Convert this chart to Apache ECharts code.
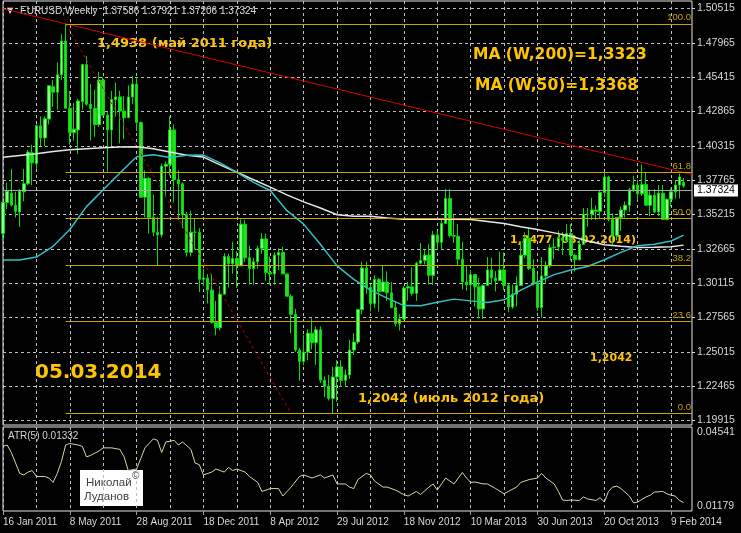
<!DOCTYPE html>
<html><head><meta charset="utf-8">
<script src="https://cdn.jsdelivr.net/npm/echarts@6/dist/echarts.min.js"></script>
<style>html,body{margin:0;padding:0;background:#000;}#c{width:741px;height:533px;}</style>
</head><body><div id="c"></div>
<script>
// ---- weekly bars EURUSD, week of 16 Jan 2011 (index 0) .. week of 2 Mar 2014 (index 163)
const openP = [1.3380,1.3610,1.3680,1.3590,1.3540,1.3690,1.3750,1.3980,1.3900,1.4180,
1.4090,1.4230,1.4470,1.4430,1.4560,1.4810,1.4310,1.4130,1.4150,1.4360,
1.4635,1.4340,1.4310,1.4190,1.4520,1.4260,1.4150,1.4375,1.4395,1.4290,
1.4240,1.4395,1.4490,1.4205,1.3650,1.3790,1.3500,1.3390,1.3370,1.3880,
1.3895,1.4150,1.3780,1.3750,1.3520,1.3240,1.3390,1.3390,1.3040,1.3050,
1.2960,1.2720,1.2680,1.2930,1.3210,1.3155,1.3195,1.3140,1.3450,1.3200,
1.3120,1.3170,1.3270,1.3340,1.3090,1.3080,1.3220,1.3240,1.3080,1.2915,
1.2780,1.2515,1.2430,1.2500,1.2640,1.2570,1.2665,1.2290,1.2245,1.2155,
1.2315,1.2390,1.2290,1.2330,1.2515,1.2575,1.2815,1.3125,1.2980,1.2860,
1.3040,1.2950,1.3020,1.2940,1.2830,1.2710,1.2745,1.2975,1.2985,1.2935,
1.3160,1.3180,1.3220,1.3070,1.3370,1.3315,1.3455,1.3640,1.3365,1.3360,
1.3190,1.3020,1.3000,1.3075,1.2985,1.2820,1.2995,1.3110,1.3050,1.3030,
1.3110,1.2995,1.2835,1.2930,1.2995,1.3220,1.3345,1.3120,1.3010,1.2830,
1.3065,1.3140,1.3275,1.3280,1.3345,1.3330,1.3380,1.3220,1.3185,1.3300,
1.3525,1.3525,1.3555,1.3545,1.3685,1.3800,1.3485,1.3365,1.3500,1.3555,
1.3590,1.3705,1.3740,1.3675,1.3745,1.3590,1.3665,1.3540,1.3680,1.3485,
1.3635,1.3690,1.3740,1.37586];
const highP = [1.3620,1.3760,1.3860,1.3690,1.3710,1.3860,1.4000,1.4040,1.4190,1.4250,
1.4250,1.4480,1.4520,1.4650,1.4860,1.4938,1.4440,1.4350,1.4380,1.4640,
1.4700,1.4490,1.4450,1.4580,1.4540,1.4280,1.4440,1.4500,1.4440,1.4400,
1.4480,1.4550,1.4540,1.4210,1.3850,1.3800,1.3670,1.3500,1.3900,1.3915,
1.4250,1.4190,1.3850,1.3760,1.3540,1.3550,1.3490,1.3420,1.3120,1.3080,
1.3080,1.2880,1.2990,1.3235,1.3230,1.3320,1.3250,1.3486,1.3480,1.3290,
1.3200,1.3290,1.3385,1.3380,1.3210,1.3240,1.3270,1.3280,1.3080,1.2930,
1.2820,1.2530,1.2625,1.2670,1.2750,1.2690,1.2690,1.2320,1.2330,1.2390,
1.2440,1.2440,1.2370,1.2590,1.2640,1.2820,1.3170,1.3170,1.3000,1.3070,
1.3050,1.3140,1.3100,1.3020,1.2880,1.2780,1.2990,1.3020,1.3130,1.3170,
1.3310,1.3260,1.3300,1.3400,1.3400,1.3480,1.3711,1.3710,1.3520,1.3450,
1.3320,1.3140,1.3110,1.3080,1.3050,1.3000,1.3205,1.3200,1.3100,1.3245,
1.3240,1.3010,1.3000,1.3060,1.3310,1.3390,1.3420,1.3190,1.3080,1.3205,
1.3175,1.3300,1.3345,1.3400,1.3390,1.3450,1.3450,1.3230,1.3330,1.3570,
1.3570,1.3645,1.3590,1.3705,1.3832,1.3810,1.3530,1.3500,1.3580,1.3620,
1.3720,1.3810,1.3780,1.3893,1.3835,1.3700,1.3710,1.3740,1.3740,1.3640,
1.3715,1.3775,1.3825,1.37921];
const lowP = [1.3330,1.3560,1.3580,1.3500,1.3430,1.3620,1.3740,1.3740,1.3860,1.4030,
1.4030,1.4190,1.4320,1.4300,1.4520,1.4310,1.4040,1.4070,1.3970,1.4300,
1.4330,1.4070,1.4100,1.4170,1.4250,1.3840,1.4030,1.4250,1.4050,1.4080,
1.4240,1.4340,1.4140,1.3650,1.3500,1.3380,1.3360,1.3146,1.3350,1.3650,
1.3810,1.3610,1.3480,1.3420,1.3210,1.3210,1.3260,1.2945,1.2990,1.2860,
1.2710,1.2624,1.2660,1.2930,1.2980,1.3080,1.2975,1.3140,1.3170,1.3000,
1.3000,1.3120,1.3230,1.3030,1.3000,1.3000,1.3110,1.3080,1.2910,1.2640,
1.2500,1.2288,1.2400,1.2440,1.2520,1.2405,1.2270,1.2165,1.2140,1.2042,
1.2130,1.2240,1.2240,1.2300,1.2480,1.2560,1.2780,1.2930,1.2800,1.2830,
1.2800,1.2950,1.2880,1.2825,1.2690,1.2660,1.2740,1.2880,1.2920,1.2880,
1.3150,1.3150,1.3000,1.2998,1.3260,1.3260,1.3450,1.3350,1.3310,1.3140,
1.2965,1.2955,1.2880,1.2840,1.2750,1.2745,1.2995,1.3000,1.2950,1.3030,
1.2960,1.2795,1.2820,1.2840,1.2995,1.3200,1.3110,1.2995,1.2805,1.2755,
1.3010,1.3125,1.3190,1.3250,1.3220,1.3310,1.3180,1.3100,1.3180,1.3300,
1.3430,1.3480,1.3480,1.3490,1.3650,1.3470,1.3295,1.3330,1.3400,1.3500,
1.3540,1.3690,1.3630,1.3660,1.3590,1.3510,1.3530,1.3510,1.3480,1.3477,
1.3580,1.3640,1.3640,1.37206];
const closeP = [1.3612,1.3694,1.3592,1.3545,1.3695,1.3750,1.3985,1.3905,1.4180,1.4090,
1.4232,1.4478,1.4430,1.4560,1.4810,1.4310,1.4130,1.4155,1.4365,1.4635,
1.4340,1.4310,1.4190,1.4520,1.4260,1.4150,1.4375,1.4395,1.4290,1.4240,
1.4395,1.4490,1.4205,1.3650,1.3790,1.3500,1.3390,1.3370,1.3880,1.3895,
1.4150,1.3780,1.3750,1.3520,1.3240,1.3390,1.3390,1.3040,1.3050,1.2960,
1.2720,1.2680,1.2930,1.3210,1.3155,1.3195,1.3140,1.3450,1.3200,1.3120,
1.3170,1.3270,1.3340,1.3090,1.3080,1.3220,1.3240,1.3080,1.2915,1.2780,
1.2515,1.2430,1.2500,1.2640,1.2570,1.2665,1.2290,1.2245,1.2155,1.2315,
1.2390,1.2290,1.2330,1.2515,1.2575,1.2815,1.3125,1.2980,1.2860,1.3040,
1.2950,1.3020,1.2940,1.2830,1.2710,1.2745,1.2975,1.2985,1.2935,1.3160,
1.3180,1.3220,1.3070,1.3370,1.3315,1.3455,1.3640,1.3365,1.3360,1.3190,
1.3020,1.3000,1.3075,1.2985,1.2820,1.2995,1.3110,1.3050,1.3030,1.3110,
1.2995,1.2835,1.2930,1.2995,1.3220,1.3345,1.3120,1.3010,1.2830,1.3065,
1.3140,1.3275,1.3280,1.3345,1.3330,1.3380,1.3220,1.3185,1.3300,1.3525,
1.3525,1.3555,1.3545,1.3685,1.3800,1.3485,1.3365,1.3500,1.3555,1.3590,
1.3705,1.3740,1.3675,1.3745,1.3590,1.3665,1.3540,1.3680,1.3485,1.3635,
1.3690,1.3740,1.3800,1.37324];

const maWeeks = [0,4,8,12,16,20,24,28,32,36,40,44,48,52,56,60,64,68,72,76,80,84,88,92,96,100,104,108,112,116,120,124,128,132,136,140,144,148,152,156,160,163];
const ma200 = [1.3947,1.3960,1.3972,1.3990,1.4002,1.4010,1.4017,1.4022,1.4024,1.4010,1.3985,1.3962,1.3948,1.3890,1.3835,1.3780,1.3725,1.3667,1.3615,1.3570,1.3520,1.3508,1.3508,1.3495,1.3487,1.3487,1.3487,1.3487,1.3485,1.3470,1.3455,1.3430,1.3410,1.3385,1.3360,1.3325,1.3297,1.3285,1.3276,1.3278,1.3282,1.3294];
const ma50 = [1.3184,1.3184,1.3205,1.3285,1.3410,1.3580,1.3705,1.3830,1.3950,1.3965,1.3945,1.3962,1.3963,1.3905,1.3835,1.3760,1.3700,1.3550,1.3450,1.3300,1.3140,1.3040,1.2960,1.2900,1.2845,1.2843,1.2870,1.2893,1.2880,1.2868,1.2888,1.2960,1.3020,1.3075,1.3110,1.3135,1.3185,1.3240,1.3290,1.3300,1.3325,1.3368];

// ATR(5)
const atrWeeks = [0,1,2,4,5,6,7,8,10,11,12,13,14,15,16,18,19,20,21,23,24,26,28,29,30,32,33,34,36,37,38,39,41,42,43,45,46,47,48,50,51,53,54,55,56,58,59,61,62,63,64,66,67,69,71,72,74,76,77,79,80,82,83,84,85,87,88,89,91,92,94,96,97,99,100,102,103,104,105,106,108,110,111,112,113,115,116,118,120,121,123,124,126,128,129,130,132,133,134,135,136,138,139,140,142,143,144,145,146,147,148,150,151,152,154,155,156,158,159,160,161,162,163];
const atrVals = [0.0389,0.0395,0.0361,0.0266,0.0259,0.0272,0.0279,0.0252,0.0252,0.0245,0.0225,0.0266,0.0320,0.0395,0.0402,0.0395,0.0389,0.0341,0.0348,0.0368,0.0382,0.0382,0.0375,0.0341,0.0279,0.0286,0.0334,0.0382,0.0423,0.0416,0.0361,0.0409,0.0416,0.0395,0.0409,0.0375,0.0313,0.0306,0.0259,0.0272,0.0286,0.0272,0.0293,0.0279,0.0286,0.0272,0.0252,0.0225,0.0184,0.0190,0.0197,0.0197,0.0163,0.0204,0.0252,0.0259,0.0245,0.0259,0.0245,0.0259,0.0218,0.0218,0.0204,0.0197,0.0238,0.0266,0.0259,0.0231,0.0204,0.0204,0.0190,0.0170,0.0163,0.0184,0.0170,0.0204,0.0218,0.0190,0.0218,0.0245,0.0218,0.0270,0.0245,0.0225,0.0227,0.0218,0.0218,0.0197,0.0173,0.0184,0.0204,0.0225,0.0238,0.0245,0.0266,0.0245,0.0218,0.0184,0.0145,0.0143,0.0145,0.0143,0.0159,0.0150,0.0143,0.0156,0.0136,0.0184,0.0204,0.0208,0.0197,0.0163,0.0132,0.0136,0.0159,0.0167,0.0181,0.0184,0.0173,0.0167,0.0163,0.0143,0.0133];

// Fibonacci levels and drawn lines
const fibLevels = [1.2042, 1.2725, 1.3148, 1.3490, 1.3832, 1.4938];
const fibLabels = ['0.0', '23.6', '38.2', '50.0', '61.8', '100.0'];
const fibStartWeek = 15, fibEndWeek = 165;
const trendWeeks = [0, 165], trendVals = [1.5050, 1.3819];
const fibDiagWeeks = [15, 69], fibDiagVals = [1.4938, 1.2042];
const bidPrice = 1.37324;

// axes
const priceMin = 1.19915, priceMax = 1.50515, priceStep = 0.0255;
const atrMin = 0.01179, atrMax = 0.04541;
const MONTHS = ['Jan','Feb','Mar','Apr','May','Jun','Jul','Aug','Sep','Oct','Nov','Dec'];
const weekCount = 166;
const weeks = [];
for (let i = 0; i < weekCount; i++) {
  const d = new Date(Date.UTC(2011, 0, 16) + i * 7 * 86400000);
  weeks.push(d.getUTCDate() + ' ' + MONTHS[d.getUTCMonth()] + ' ' + d.getUTCFullYear());
}

const pair = (xs, ys) => xs.map((x, i) => [x, ys[i]]);
const gridLine = { color: '#BEBEBE', type: [3, 3], width: 1 };
const gold = '#FFC400';
const fibColor = '#C9A400';
const axisFont = 'Liberation Sans';

const chart = echarts.init(document.getElementById('c'), null, { renderer: 'canvas' });
chart.setOption({
  backgroundColor: '#000',
  animation: false,
  grid: [
    { left: 3, right: 49, top: 1, height: 424, show: true, borderColor: '#E6E6E6', borderWidth: 1 },
    { left: 3, right: 49, top: 8.5, height: 412 },
    { left: 3, right: 49, top: 432, height: 74 },
    { left: 3, right: 49, top: 427, height: 84, show: true, borderColor: '#E6E6E6', borderWidth: 1 }
  ],
  xAxis: [
    { gridIndex: 0, type: 'category', data: weeks, boundaryGap: false, axisLine: { show: false }, axisTick: { show: false }, axisLabel: { show: false },
      splitLine: { show: true, interval: (i) => i % 8 === 0, lineStyle: gridLine } },
    { gridIndex: 1, type: 'category', data: weeks, boundaryGap: false, show: false },
    { gridIndex: 2, type: 'category', data: weeks, boundaryGap: false, show: false },
    { gridIndex: 3, type: 'category', data: weeks, boundaryGap: false, axisLine: { show: false },
      axisTick: { show: true, interval: (i) => i % 16 === 0, length: 4, lineStyle: { color: '#999' } },
      axisLabel: { interval: (i) => i % 16 === 0, align: 'left', color: '#D8D8D8', fontSize: 10, fontFamily: axisFont, margin: 6 },
      splitLine: { show: true, interval: (i) => i % 8 === 0, lineStyle: gridLine } }
  ],
  yAxis: [
    { gridIndex: 0, type: 'value', show: false },
    { gridIndex: 1, type: 'value', position: 'right', min: priceMin, max: priceMax, interval: priceStep,
      axisLine: { show: false }, axisTick: { show: true, length: 3, lineStyle: { color: '#D8D8D8' } },
      axisLabel: { formatter: (v) => v.toFixed(5), color: '#D8D8D8', fontSize: 10.5, fontFamily: axisFont, margin: 5 },
      splitLine: { show: true, lineStyle: gridLine } },
    { gridIndex: 2, type: 'value', position: 'right', min: atrMin, max: atrMax, interval: atrMax - atrMin,
      axisLine: { show: false }, axisTick: { show: false },
      axisLabel: { formatter: (v) => v.toFixed(5), color: '#D8D8D8', fontSize: 10.5, fontFamily: axisFont, margin: 5 },
      splitLine: { show: false } },
    { gridIndex: 3, type: 'value', show: false }
  ],
  series: [
    { type: 'candlestick', xAxisIndex: 1, yAxisIndex: 1, barWidth: 3, z: 2,
      data: openP.map((o, i) => [o, closeP[i], lowP[i], highP[i]]),
      itemStyle: { color: '#8CFF8C', color0: '#2ED82E', borderColor: '#00DD00', borderColor0: '#00DD00', borderWidth: 1 },
      markLine: {
        silent: true, symbol: ['none', 'none'], animation: false,
        data: [
          { yAxis: bidPrice, lineStyle: { color: '#A8A8A8', type: 'solid', width: 1 },
            label: { show: true, position: 'end', formatter: bidPrice.toFixed(5), backgroundColor: '#FFFFFF', color: '#000', padding: [1, 3, 0, 3], fontSize: 10.5, fontFamily: axisFont, distance: 2 } }
        ].concat(fibLevels.map((lv, i) => [
          { coord: [fibStartWeek, lv], lineStyle: { color: fibColor, type: 'solid', width: 1 },
            label: { show: true, position: 'insideEndTop', formatter: fibLabels[i], color: fibColor, fontSize: 9.5, fontFamily: axisFont, distance: 1 } },
          { coord: [fibEndWeek, lv] }
        ]))
      } },
    { type: 'line', xAxisIndex: 1, yAxisIndex: 1, data: pair(maWeeks, ma200), symbol: 'none', z: 3, lineStyle: { color: '#E6E6E6', width: 1.5 } },
    { type: 'line', xAxisIndex: 1, yAxisIndex: 1, data: pair(maWeeks, ma50), symbol: 'none', z: 3, lineStyle: { color: '#2EC2C6', width: 1.5 } },
    { type: 'line', xAxisIndex: 1, yAxisIndex: 1, data: pair(trendWeeks, trendVals), symbol: 'none', z: 3, lineStyle: { color: '#D80000', width: 1 } },
    { type: 'line', xAxisIndex: 1, yAxisIndex: 1, data: pair(fibDiagWeeks, fibDiagVals), symbol: 'none', z: 3, lineStyle: { color: '#C00000', width: 1, type: [3, 3] } },
    { type: 'line', xAxisIndex: 2, yAxisIndex: 2, data: pair(atrWeeks, atrVals), symbol: 'none', z: 3, clip: false, lineStyle: { color: '#D8D8A2', width: 1 } }
  ],
  graphic: [
    { type: 'text', x: 7, y: 11, style: { text: '▼', font: '8px "DejaVu Sans"', fill: '#E0E0E0', textVerticalAlign: 'middle' } },
    { type: 'text', x: 20, y: 11, style: { text: 'EURUSD,Weekly  1.37586 1.37921 1.37206 1.37324', font: '10px "Liberation Sans"', fill: '#DCDCDC', textVerticalAlign: 'middle' } },
    { type: 'text', x: 97, y: 44, style: { text: '1,4938 (май 2011 года)', font: 'bold 13px "DejaVu Sans"', fill: gold, textVerticalAlign: 'middle' } },
    { type: 'text', x: 473, y: 55, style: { text: 'MA (W,200)=1,3323', font: 'bold 15.5px "DejaVu Sans"', fill: gold, textVerticalAlign: 'middle' } },
    { type: 'text', x: 475, y: 86, style: { text: 'MA (W,50)=1,3368', font: 'bold 15.5px "DejaVu Sans"', fill: gold, textVerticalAlign: 'middle' } },
    { type: 'text', x: 510, y: 240, style: { text: '1,3477 (03.02.2014)', font: 'bold 11px "DejaVu Sans"', fill: gold, textVerticalAlign: 'middle' } },
    { type: 'text', x: 590, y: 358, style: { text: '1,2042', font: 'bold 11px "DejaVu Sans"', fill: gold, textVerticalAlign: 'middle' } },
    { type: 'text', x: 358, y: 399, style: { text: '1,2042 (июль 2012 года)', font: 'bold 13px "DejaVu Sans"', fill: gold, textVerticalAlign: 'middle' } },
    { type: 'text', x: 35, y: 373, style: { text: '05.03.2014', font: 'bold 20px "DejaVu Sans"', fill: gold, textVerticalAlign: 'middle' } },
    { type: 'text', x: 8, y: 436, style: { text: 'ATR(5) 0.01332', font: '10px "Liberation Sans"', fill: '#D4D4D4', textVerticalAlign: 'middle' } },
    { type: 'rect', shape: { x: 80, y: 470, width: 63, height: 36 }, style: { fill: '#FFFFFF' } },
    { type: 'text', x: 86, y: 483, style: { text: 'Николай', font: '11.5px "Liberation Sans"', fill: '#404040', textVerticalAlign: 'middle' } },
    { type: 'text', x: 132, y: 476, style: { text: '©', font: '10px "Liberation Sans"', fill: '#404040', textVerticalAlign: 'middle' } },
    { type: 'text', x: 84, y: 497, style: { text: 'Луданов', font: '11.5px "Liberation Sans"', fill: '#404040', textVerticalAlign: 'middle' } }
  ]
});
</script>
</body></html>
